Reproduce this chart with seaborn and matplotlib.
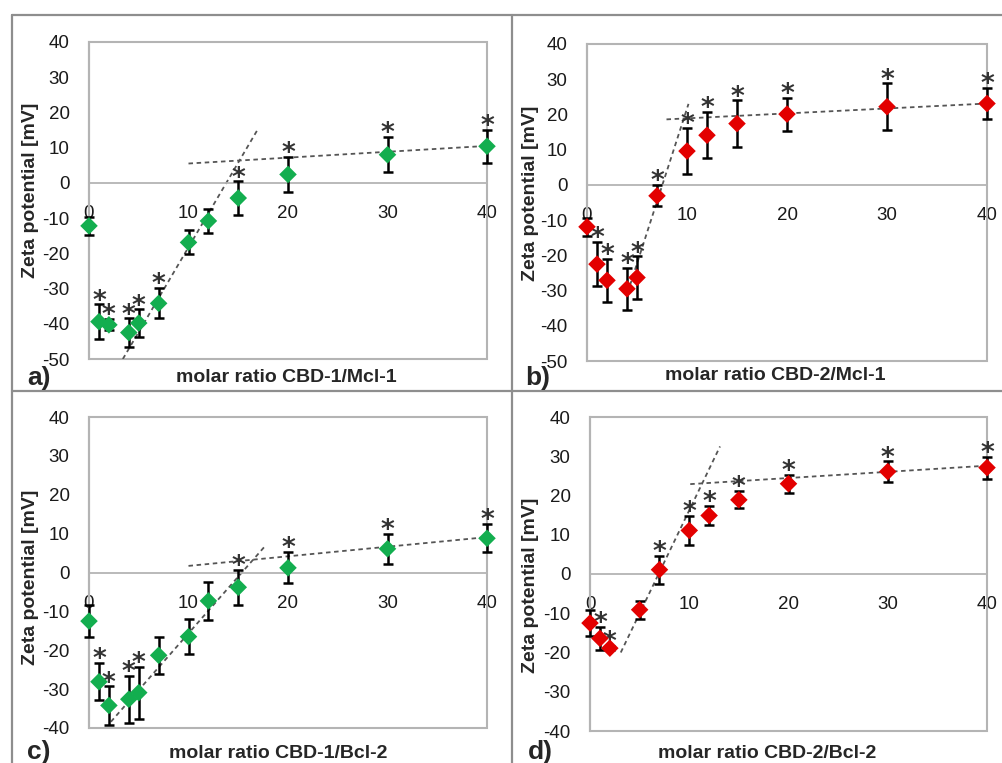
import seaborn as sns
import matplotlib.pyplot as plt
from matplotlib.patches import Rectangle
from matplotlib.lines import Line2D

sns.set_style("white")
plt.rcParams['font.family'] = ['Liberation Sans', 'DejaVu Sans']
plt.rcParams['axes.unicode_minus'] = False

GREEN = "#13AE4F"
RED = "#E30000"
AXGRAY = "#B4B4B4"
FRAME = "#8E8E8E"

# a) CBD-1 / Mcl-1
ratio_a = [0, 1, 2, 4, 5, 7, 10, 12, 15, 20, 30, 40]
zeta_a = [-12.2, -39.4, -40.3, -42.5, -39.8, -34.2, -16.9, -10.8, -4.3, 2.4, 8.0, 10.4]
err_a = [2.6, 4.9, 1.6, 4.0, 3.9, 4.3, 3.4, 3.4, 4.7, 5.0, 5.0, 4.7]
star_a = [0, 1, 1, 1, 1, 1, 0, 0, 1, 1, 1, 1]
fit1_a = ([3.4, 16.9], [-50, 14.9])
fit2_a = ([10, 40], [5.5, 10.5])

# b) CBD-2 / Mcl-1
ratio_b = [0, 1, 2, 4, 5, 7, 10, 12, 15, 20, 30, 40]
zeta_b = [-11.9, -22.5, -27.1, -29.5, -26.3, -3.1, 9.6, 14.1, 17.4, 20.1, 22.2, 23.1]
err_b = [2.6, 6.3, 6.2, 6.0, 6.0, 3.0, 6.6, 6.5, 6.6, 4.7, 6.6, 4.5]
star_b = [0, 1, 1, 1, 1, 1, 1, 1, 1, 1, 1, 1]
fit1_b = ([4.3, 10.15], [-28.5, 23.0])
fit2_b = ([7.95, 40], [18.6, 23.1])

# c) CBD-1 / Bcl-2
ratio_c = [0, 1, 2, 4, 5, 7, 10, 12, 15, 20, 30, 40]
zeta_c = [-12.5, -28.1, -34.2, -32.6, -30.9, -21.3, -16.5, -7.3, -3.8, 1.2, 6.1, 8.8]
err_c = [4.2, 4.8, 4.9, 6.1, 6.7, 4.8, 4.5, 4.8, 4.5, 4.0, 3.9, 3.6]
star_c = [0, 1, 1, 1, 1, 0, 0, 0, 1, 1, 1, 1]
fit1_c = ([2.2, 17.8], [-38.4, 7.1])
fit2_c = ([10, 40], [1.7, 9.1])

# d) CBD-2 / Bcl-2
ratio_d = [0, 1, 2, 5, 7, 10, 12, 15, 20, 30, 40]
zeta_d = [-12.5, -16.4, -18.9, -9.1, 1.1, 11.1, 14.9, 18.9, 23.0, 26.1, 27.1]
err_d = [3.4, 3.0, 0.5, 2.3, 3.6, 3.8, 2.5, 2.2, 2.3, 2.6, 2.8]
star_d = [0, 1, 1, 0, 1, 1, 1, 1, 1, 1, 1]
fit1_d = ([3.1, 13.1], [-20, 32.5])
fit2_d = ([10.1, 40], [22.9, 27.6])

panels = [
    # data, color, ylim, axes box (px: left, top, right, bottom), ylabel pos, xlabel pos, letter pos
    (ratio_a, zeta_a, err_a, star_a, fit1_a, fit2_a, GREEN, -50, (89, 42, 487, 359),
     (-0.126, 0.533), "molar ratio CBD-1/Mcl-1", (286, 378), "a)", (39, 378)),
    (ratio_b, zeta_b, err_b, star_b, fit1_b, fit2_b, RED, -50, (587, 44, 987, 361),
     (-0.12, 0.53), "molar ratio CBD-2/Mcl-1", (775, 376), "b)", (538, 378)),
    (ratio_c, zeta_c, err_c, star_c, fit1_c, fit2_c, GREEN, -40, (89, 417, 487, 728),
     (-0.126, 0.486), "molar ratio CBD-1/Bcl-2", (278, 753), "c)", (39, 752)),
    (ratio_d, zeta_d, err_d, star_d, fit1_d, fit2_d, RED, -40, (590, 417, 987, 731),
     (-0.128, 0.465), "molar ratio CBD-2/Bcl-2", (767, 753), "d)", (540, 752)),
]

W, H = 1002, 763
fig = plt.figure(figsize=(W / 100, H / 100), dpi=100)

for (x, y, e, st, f1, f2, col, ymin, box, ylab, xlab, xlab_pos, letter, let_pos) in panels:
    l, t, r, b = box
    ax = fig.add_axes([l / W, 1 - b / H, (r - l) / W, (b - t) / H])

    for fx, fy in (f1, f2):
        sns.lineplot(x=fx, y=fy, ax=ax, color="#555555", lw=1.3,
                     linestyle=(0, (2.5, 2)), zorder=2)
    ax.errorbar(x, y, yerr=e, fmt="none", ecolor="black", elinewidth=1.8,
                capsize=3.6, capthick=1.8, zorder=3, clip_on=False)
    sns.scatterplot(x=x, y=y, ax=ax, marker="D", s=80, color=col,
                    edgecolor="none", zorder=4, clip_on=False)
    for xi, yi, ei, s in zip(x, y, e, st):
        if s:
            ax.annotate("*", (xi, yi + ei), xytext=(0, -3), textcoords="offset points",
                        ha="center", va="baseline", fontsize=19, fontweight="bold",
                        color="#333333", family="DejaVu Sans", annotation_clip=False)

    ax.set_xlim(0, 40)
    ax.set_ylim(ymin, 40)
    ax.set_yticks(range(ymin, 41, 10))
    ax.set_xticks(range(0, 41, 2))
    ax.set_xticklabels([str(v) if v % 10 == 0 else "" for v in range(0, 41, 2)])

    for side in ["top", "right"]:
        ax.spines[side].set_visible(False)
    ax.spines["bottom"].set_position(("data", 0))
    ax.spines["bottom"].set_color(AXGRAY)
    ax.spines["bottom"].set_linewidth(1.3)
    ax.spines["left"].set_color(AXGRAY)
    ax.spines["left"].set_linewidth(1.5)
    ax.add_patch(Rectangle((0, 0), 1, 1, transform=ax.transAxes, fill=False,
                           edgecolor=AXGRAY, lw=1.5, clip_on=False, zorder=1))

    ax.tick_params(axis="x", direction="in", length=4, width=1.1, color=AXGRAY,
                   pad=16, labelsize=13.5, labelcolor="#1a1a1a")
    ax.tick_params(axis="y", direction="inout", length=8, width=1.1, color=AXGRAY,
                   pad=10, labelsize=13.5, labelcolor="#1a1a1a")

    ax.set_ylabel("Zeta potential [mV]", fontsize=14, fontweight="bold")
    ax.yaxis.set_label_coords(*ylab)
    ax.set_xlabel("")
    fig.text(xlab_pos[0] / W, 1 - xlab_pos[1] / H, xlab, ha="center", va="center",
             fontsize=14, fontweight="bold")
    fig.text(let_pos[0] / W, 1 - let_pos[1] / H, letter, ha="center", va="center",
             fontsize=19, fontweight="bold")

# outer panel frame
def frame_line(xs, ys):
    fig.add_artist(Line2D([v / W for v in xs], [1 - v / H for v in ys],
                          color=FRAME, lw=1.6, transform=fig.transFigure))

frame_line([12, W], [15, 15])
frame_line([12, 12], [15, H])
frame_line([512, 512], [15, H])
frame_line([12, W], [391, 391])

fig.savefig("out.png", dpi=100)
